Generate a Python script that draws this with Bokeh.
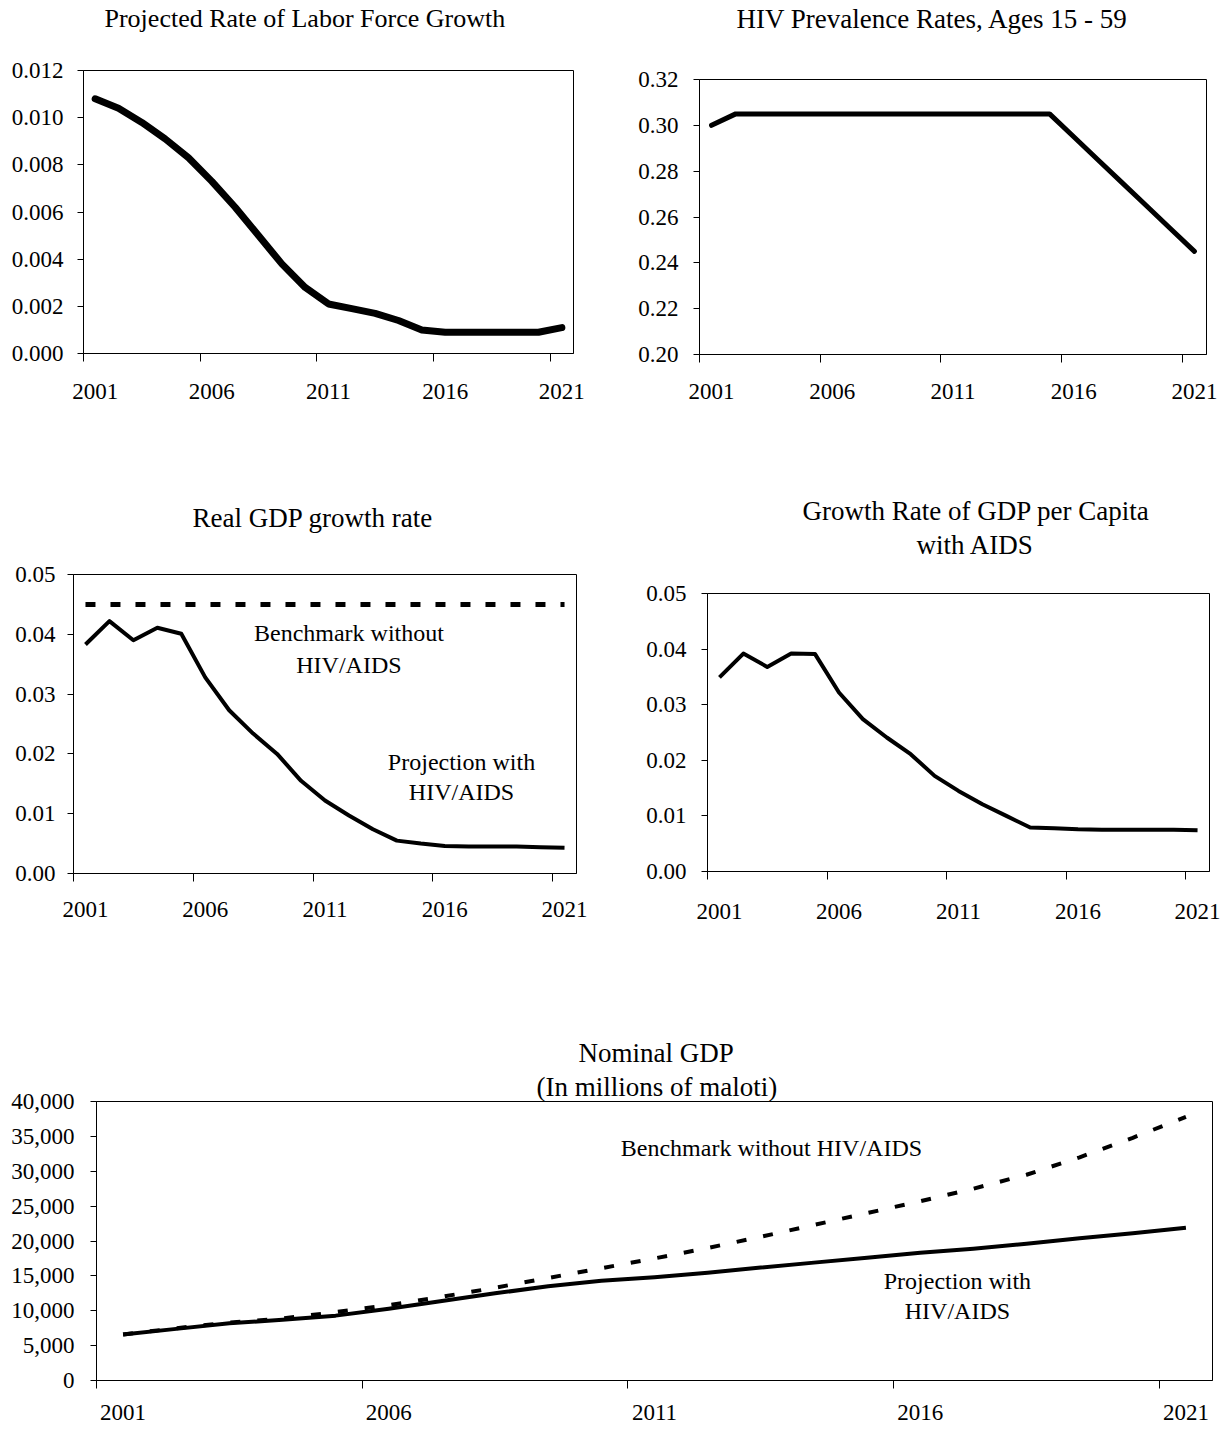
from bokeh.plotting import figure
from bokeh.models import FixedTicker, LinearAxis, Label, Range1d, Title
from bokeh.layouts import column, row
from bokeh.embed import file_html
from bokeh.resources import INLINE

# ---------------- data ----------------
years = [2001, 2002, 2003, 2004, 2005, 2006, 2007, 2008, 2009, 2010, 2011,
         2012, 2013, 2014, 2015, 2016, 2017, 2018, 2019, 2020, 2021]
x_label_years = [2001, 2006, 2011, 2016, 2021]
x_labels = ["2001", "2006", "2011", "2016", "2021"]
x_boundaries = [2000.5, 2005.5, 2010.5, 2015.5, 2020.5]

labor_growth = [0.0108, 0.0104, 0.0098, 0.0091, 0.0083, 0.0073, 0.0062, 0.0050,
                0.0038, 0.0028, 0.0021, 0.0019, 0.0017, 0.0014, 0.0010, 0.0009,
                0.0009, 0.0009, 0.0009, 0.0009, 0.0011]
labor_ticks = [0.0, 0.002, 0.004, 0.006, 0.008, 0.010, 0.012]
labor_labels = ["0.000", "0.002", "0.004", "0.006", "0.008", "0.010", "0.012"]

hiv_prevalence = [0.300, 0.305, 0.305, 0.305, 0.305, 0.305, 0.305, 0.305, 0.305,
                  0.305, 0.305, 0.305, 0.305, 0.305, 0.305, 0.295, 0.285, 0.275,
                  0.265, 0.255, 0.245]
hiv_ticks = [0.20, 0.22, 0.24, 0.26, 0.28, 0.30, 0.32]
hiv_labels = ["0.20", "0.22", "0.24", "0.26", "0.28", "0.30", "0.32"]

real_gdp_aids = [0.0383, 0.0422, 0.0390, 0.0411, 0.0401, 0.0328, 0.0273, 0.0234,
                 0.0200, 0.0155, 0.0122, 0.0097, 0.0074, 0.0055, 0.0050, 0.0046,
                 0.0045, 0.0045, 0.0045, 0.0044, 0.0043]
real_gdp_bench = [0.045, 0.045, 0.045, 0.045, 0.045, 0.045, 0.045, 0.045, 0.045,
                  0.045, 0.045, 0.045, 0.045, 0.045, 0.045, 0.045, 0.045, 0.045,
                  0.045, 0.045, 0.045]
gdp_ticks = [0.0, 0.01, 0.02, 0.03, 0.04, 0.05]
gdp_labels = ["0.00", "0.01", "0.02", "0.03", "0.04", "0.05"]

gdp_pc_aids = [0.0349, 0.0392, 0.0368, 0.0392, 0.0391, 0.0322, 0.0274, 0.0241,
               0.0211, 0.0172, 0.0145, 0.0121, 0.0100, 0.0079, 0.0078, 0.0076,
               0.0075, 0.0075, 0.0075, 0.0075, 0.0074]

nominal_aids = [6600, 7400, 8200, 8700, 9300, 10300, 11400, 12500, 13500, 14300,
                14800, 15450, 16200, 16900, 17600, 18300, 18900, 19600, 20400,
                21100, 21900]
nominal_bench = [6600, 7500, 8300, 8900, 9800, 10800, 12000, 13300, 14700, 16100,
                 17500, 19000, 20600, 22300, 24000, 25700, 27500, 29500, 32000,
                 34800, 37800]
nom_ticks = [0, 5000, 10000, 15000, 20000, 25000, 30000, 35000, 40000]
nom_labels = ["0", "5,000", "10,000", "15,000", "20,000", "25,000", "30,000",
              "35,000", "40,000"]

FONT = "Liberation Serif"
TICK_FS = "23px"
NOTE_FS = "24px"


def make_panel(width, height, left, right, top, bottom, y_range, yticks, ylabels,
               ystandoff, xstandoff):
    p = figure(width=width, height=height, x_range=Range1d(2000.5, 2021.5),
               y_range=Range1d(*y_range), x_axis_type=None, y_axis_type=None,
               output_backend="svg", toolbar_location=None, title=None,
               min_border_left=left, min_border_right=right,
               min_border_top=top, min_border_bottom=bottom)
    p.outline_line_color = "black"
    p.outline_line_width = 1
    p.background_fill_color = "white"
    p.border_fill_color = "white"

    ya = LinearAxis(ticker=FixedTicker(ticks=yticks),
                    major_label_overrides=dict(zip(yticks, ylabels)))
    ya.major_tick_out = 6
    ya.major_tick_in = 0
    ya.minor_tick_out = 0
    ya.minor_tick_in = 0
    ya.major_label_standoff = ystandoff
    ya.major_label_text_font = FONT
    ya.major_label_text_font_size = TICK_FS
    ya.major_label_text_color = "black"
    ya.axis_line_color = "black"
    ya.major_tick_line_color = "black"
    p.add_layout(ya, "left")

    # labels at category centres, tick marks at category boundaries (minor ticks)
    xa = LinearAxis(ticker=FixedTicker(ticks=x_label_years, minor_ticks=x_boundaries),
                    major_label_overrides=dict(zip(x_label_years, x_labels)))
    xa.axis_line_color = "black"
    xa.major_tick_line_color = None
    xa.major_tick_out = 0
    xa.major_tick_in = 0
    xa.minor_tick_line_color = "black"
    xa.minor_tick_out = 8
    xa.minor_tick_in = 0
    xa.major_label_standoff = xstandoff
    xa.major_label_text_font = FONT
    xa.major_label_text_font_size = TICK_FS
    xa.major_label_text_color = "black"
    p.add_layout(xa, "below")
    return p


def add_titles(p, lines, gaps, offsets, size="27px"):
    # lines are given bottom (nearest the frame) first; the bottom padding of
    # each title keeps it clear of the frame / of the line below it
    for text, gap, off in zip(lines, gaps, offsets):
        p.add_layout(Title(text=text, align="left", offset=off, standoff=0,
                           padding=dict(left=0, right=0, top=0, bottom=gap),
                           text_font=FONT, text_font_size=size,
                           text_font_style="normal", text_color="black"), "above")


def add_note(p, text, x, y):
    p.add_layout(Label(x=x, y=y, text=text, text_align="center",
                       text_baseline="middle", text_font=FONT,
                       text_font_size=NOTE_FS, text_color="black"))


# Panel 1: labor force growth
p1 = make_panel(616, 420, 83, 43, 70, 67, (0, 0.012), labor_ticks, labor_labels, 14, 22)
p1.line(years, labor_growth, line_color="black", line_width=7, line_join="round",
        line_cap="round")
add_titles(p1, ["Projected Rate of Labor Force Growth"], [38], [21], size="26px")

# Panel 2: HIV prevalence
p2 = make_panel(614, 420, 83, 24, 79, 66, (0.20, 0.32), hiv_ticks, hiv_labels, 15, 21)
p2.line(years, hiv_prevalence, line_color="black", line_width=5, line_join="round",
        line_cap="round")
add_titles(p2, ["HIV Prevalence Rates, Ages 15 - 59"], [46], [37])

# Panel 3: real GDP growth
p3 = make_panel(616, 515, 73, 40, 154, 62, (0, 0.05), gdp_ticks, gdp_labels, 12, 20)
p3.line(years, real_gdp_bench, line_color="black", line_width=5, line_dash="10 15")
p3.line(years, real_gdp_aids, line_color="black", line_width=4, line_join="round")
add_titles(p3, ["Real GDP growth rate"], [42], [119])
add_note(p3, "Benchmark without", 2012.0, 0.0403)
add_note(p3, "HIV/AIDS", 2012.0, 0.0349)
add_note(p3, "Projection with", 2016.7, 0.0186)
add_note(p3, "HIV/AIDS", 2016.7, 0.0136)

# Panel 4: GDP per capita growth
p4 = make_panel(614, 515, 91, 21, 173, 64, (0, 0.05), gdp_ticks, gdp_labels, 15, 24)
p4.line(years, gdp_pc_aids, line_color="black", line_width=4, line_join="round")
add_titles(p4, ["with AIDS", "Growth Rate of GDP per Capita"], [34, 2], [209, 95])

# Panel 5: nominal GDP
p5 = make_panel(1230, 493, 96, 18, 166, 48, (0, 40000), nom_ticks, nom_labels, 16, 16)
p5.line(years, nominal_bench, line_color="black", line_width=4, line_dash="10 17")
p5.line(years, nominal_aids, line_color="black", line_width=4, line_join="round")
add_titles(p5, ["(In millions of maloti)", "Nominal GDP"], [0, 2], [440, 482])
add_note(p5, "Benchmark without HIV/AIDS", 2013.2, 33400)
add_note(p5, "Projection with", 2016.7, 14300)
add_note(p5, "HIV/AIDS", 2016.7, 9900)

layout = column(row(column(p1), column(p2)), row(column(p3), column(p4)), p5)
open("out.html", "w").write(file_html(layout, INLINE))
